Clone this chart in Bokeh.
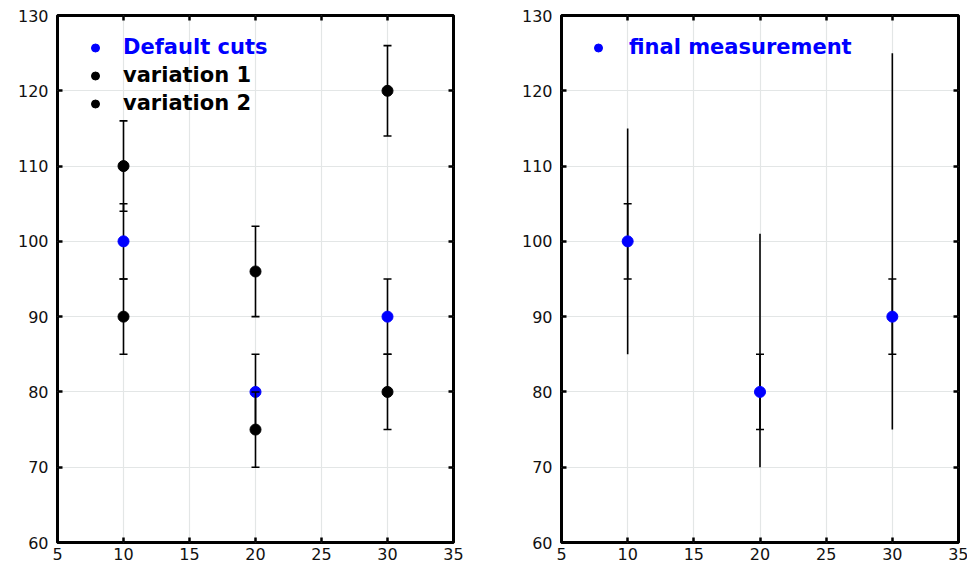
from bokeh.plotting import figure
from bokeh.layouts import row
from bokeh.models import LinearAxis, FixedTicker, Legend, LegendItem, CustomJSTickFormatter
from bokeh.embed import file_html
from bokeh.resources import INLINE

# ---- data ----
x_vals = [10, 20, 30]
default_y = [100, 80, 90]
default_err = [5, 5, 5]
var1_y = [110, 96, 120]
var1_err = [6, 6, 6]
var2_y = [90, 75, 80]
var2_err = [5, 5, 5]
final_y = [100, 80, 90]
final_stat = [5, 5, 5]
final_tot_up = [15, 21, 35]
final_tot_down = [15, 10, 15]
x_ticks = [5, 10, 15, 20, 25, 30, 35]
y_ticks = [60, 70, 80, 90, 100, 110, 120, 130]

BLUE = "#0000ff"
FONT = "DejaVu Sans"
FH = 527


def make_fig(fw, bl, br):
    p = figure(frame_width=fw, frame_height=FH, x_range=(5, 35), y_range=(60, 130),
               output_backend="svg", toolbar_location=None,
               min_border_left=bl, min_border_right=br, min_border_top=15, min_border_bottom=24)
    p.outline_line_color = "black"
    p.outline_line_width = 3
    p.outline_line_alpha = 1
    top = LinearAxis()
    right = LinearAxis()
    p.add_layout(top, "above")
    p.add_layout(right, "right")
    for ax in p.xaxis:
        ax.ticker = FixedTicker(ticks=x_ticks)
    for ax in p.yaxis:
        ax.ticker = FixedTicker(ticks=y_ticks)
    for ax in p.axis:
        ax.axis_line_color = None
        ax.major_tick_in = 5
        ax.major_tick_out = 0
        ax.major_tick_line_color = "black"
        ax.major_tick_line_width = 2.5
        ax.minor_tick_line_color = None
        ax.major_label_text_font = FONT
        ax.major_label_text_font_size = "16px"
        ax.major_label_text_color = "#111111"
    p.xaxis[0].major_label_standoff = 6
    p.yaxis[0].major_label_standoff = 9
    for ax in (top, right):
        ax.formatter = CustomJSTickFormatter(code="return ''")
        ax.major_label_text_font_size = "1px"
        ax.major_label_standoff = 0
    p.xgrid.ticker = FixedTicker(ticks=x_ticks)
    p.ygrid.ticker = FixedTicker(ticks=y_ticks)
    p.grid.grid_line_color = "#e3e6e6"
    p.grid.grid_line_width = 1.2
    return p


def err_series(p, xs, ys, err, color, caps=True):
    lo = [y - e for y, e in zip(ys, err)]
    hi = [y + e for y, e in zip(ys, err)]
    p.segment(x0=xs, y0=lo, x1=xs, y1=hi, line_color="black", line_width=1.6)
    if caps:
        p.scatter(x=xs, y=hi, marker="dash", size=8, line_color="black", line_width=1.6)
        p.scatter(x=xs, y=lo, marker="dash", size=8, line_color="black", line_width=1.6)
    return p.scatter(x=xs, y=ys, marker="circle", size=11, fill_color=color, line_color=color)


def add_legend(p, items, color, top_px, x0=28, standoff=18):
    n = len(items)
    rowh, sp = 25, 3
    height = n * rowh + (n - 1) * sp
    leg = Legend(items=items, location=(x0, FH - top_px - height),
                 border_line_color=None, background_fill_alpha=0,
                 padding=0, margin=0, spacing=sp, glyph_width=20, glyph_height=rowh,
                 label_height=rowh, label_standoff=standoff,
                 label_text_font=FONT, label_text_font_size="21px",
                 label_text_font_style="bold", label_text_color=color)
    p.add_layout(leg)


# ---- left panel ----
p1 = make_fig(396, 57, 65)
r_def = err_series(p1, x_vals, default_y, default_err, BLUE)
r_v1 = err_series(p1, x_vals, var1_y, var1_err, "black")
r_v2 = err_series(p1, x_vals, var2_y, var2_err, "black")
add_legend(p1, [LegendItem(label="Default cuts", renderers=[r_def])], BLUE, 19.5)
add_legend(p1, [LegendItem(label="variation 1", renderers=[r_v1]),
                LegendItem(label="variation 2", renderers=[r_v2])], "black", 47.5)

# ---- right panel ----
p2 = make_fig(397, 42, 10)
lo_tot = [y - d for y, d in zip(final_y, final_tot_down)]
hi_tot = [y + u for y, u in zip(final_y, final_tot_up)]
p2.segment(x0=x_vals, y0=lo_tot, x1=x_vals, y1=hi_tot, line_color="black", line_width=1.6)
r_fin = err_series(p2, x_vals, final_y, final_stat, BLUE)
add_legend(p2, [LegendItem(label="final measurement", renderers=[r_fin])], BLUE, 19.5, x0=27, standoff=21)

layout = row(p1, p2)
open("out.html", "w").write(file_html(layout, INLINE))
